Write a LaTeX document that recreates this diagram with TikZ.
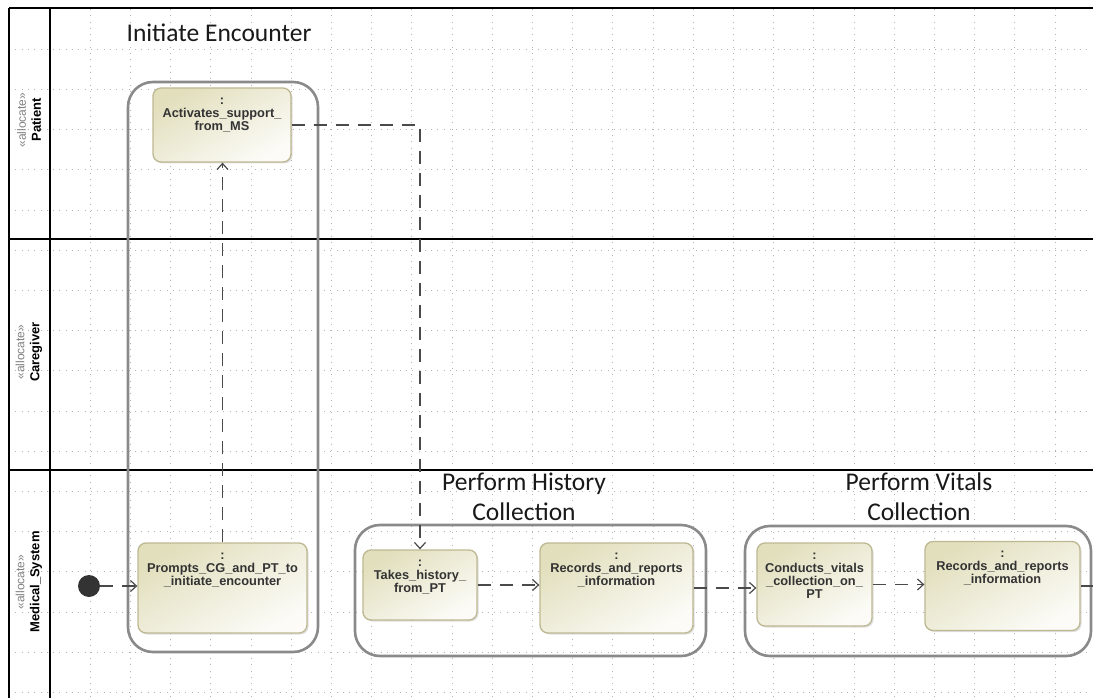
\documentclass[tikz,border=0pt]{standalone}
\usepackage{fontspec}
\setmainfont{Liberation Sans}
\newfontfamily\titlefont{Carlito}
\usetikzlibrary{arrows.meta,shadows,positioning}

\definecolor{actfill}{HTML}{E2DFBD}
\definecolor{actline}{HTML}{BDB892}
\definecolor{grpline}{HTML}{8A8A8A}
\definecolor{flow}{HTML}{4A4A4A}
\definecolor{gridc}{HTML}{B4B4B4}

\begin{document}
\begin{tikzpicture}[%
            x=1pt, y=-1pt,
            >={Straight Barb[length=6pt,width=11pt]},
            act/.style={draw=actline, line width=1.3pt, rounded corners=8pt,
                top color=actfill, bottom color=white!88!actfill, shading angle=30,
                drop shadow={shadow xshift=1.5pt, shadow yshift=-1.5pt, opacity=.25}},
            txt/.style={anchor=north, align=center, inner sep=3pt, yshift=-7pt,
                font=\fontsize{12.8}{13}\selectfont\bfseries, text=black!80},
            grp/.style={draw=grpline, line width=2.6pt, rounded corners=25pt},
            title/.style={font=\titlefont\fontsize{25.5}{30}\selectfont, align=center, text=black!90},
            lane/.style={line width=2.4pt, black},
            lanelbl/.style={rotate=90, align=center, inner sep=0pt,
                font=\fontsize{13}{15}\selectfont\bfseries},
            gridline/.style={gridc, line width=0.8pt, dash pattern=on 0.8pt off 5.5pt},
            flowline/.style={->, flow, line width=1.2pt, dash pattern=on 13pt off 9pt}
            ]
            \useasboundingbox (0,0) rectangle (1093,698);

            % grid
            \foreach \gx in {1,...,25}
                \draw[gridline] ({50+40.2*\gx},9) -- ({50+40.2*\gx},698);
            \foreach \gy in {1,...,17}
                \draw[gridline] (9,{9+40.2*\gy}) -- (1093,{9+40.2*\gy});

            % swimlanes
            \draw[lane] (9,8) -- (1093,8);
            \draw[lane] (9,8) -- (9,698);
            \draw[lane] (50,8) -- (50,698);
            \draw[lane] (9,239) -- (1093,239);
            \draw[lane] (9,470) -- (1093,470);

            \node[lanelbl] (lp) at (29,120) {{\fontsize{12}{13}\selectfont\mdseries\color{gray}«allocate»}\\Patient};
            \node[lanelbl] (lc) at (29,352) {{\fontsize{12}{13}\selectfont\mdseries\color{gray}«allocate»}\\Caregiver};
            \node[lanelbl] (lm) at (29,582) {{\fontsize{12}{13}\selectfont\mdseries\color{gray}«allocate»}\\Medical\_System};

            % groups
            \node[grp, minimum width=190pt, minimum height=570pt] (g1) at (223,367) {};
            \node[grp, minimum width=351pt, minimum height=131pt] (g2) at (530.5,590.5) {};
            \node[grp, minimum width=346pt, minimum height=130pt] (g3) at (918,591) {};

            \node[title] (t1) at (219,33) {Initiate Encounter};
            \node[title] (t2) at (524,497) {Perform History\\Collection};
            \node[title] (t3) at (919,497) {Perform Vitals\\Collection};

            % actions
            \node[circle, fill=black!80, minimum size=22pt, inner sep=0pt] (init) at (89,586) {};
            \node[act, minimum width=138pt, minimum height=74pt,
                label={[txt]north:{:\\Activates\_support\_\\from\_MS}}] (act) at (222,125) {};
            \node[act, minimum width=169pt, minimum height=90pt,
                label={[txt]north:{:\\Prompts\_CG\_and\_PT\_to\\\_initiate\_encounter}}] (prompt) at (222.5,588) {};
            \node[act, minimum width=114pt, minimum height=70pt,
                label={[txt]north:{:\\Takes\_history\_\\from\_PT}}] (take) at (420,585) {};
            \node[act, minimum width=153pt, minimum height=90pt,
                label={[txt]north:{:\\Records\_and\_reports\\\_information}}] (rec1) at (616.5,588) {};
            \node[act, minimum width=115pt, minimum height=83pt,
                label={[txt]north:{:\\Conducts\_vitals\\\_collection\_on\_\\PT}}] (cond) at (814.5,584.5) {};
            \node[act, minimum width=155pt, minimum height=89pt,
                label={[txt]north:{:\\Records\_and\_reports\\\_information}}] (rec2) at (1002.5,586) {};
            \coordinate (exit) at (1093,586);

            % flows
            \draw[flowline] (init.east) -- (init.east -| prompt.west);
            \draw[flowline] (prompt.north) -- (prompt.north |- act.south);
            \draw[flowline] (act.east) -| (take.north);
            \draw[flowline] (take.east) -- (take.east -| rec1.west);
            \draw[flowline] (rec1.east) -- (rec1.east -| cond.west);
            \draw[flowline] (cond.east) -- (cond.east -| rec2.west);
            \draw[flowline, -] (rec2.east) -- (exit);
        \end{tikzpicture}
\end{document}
